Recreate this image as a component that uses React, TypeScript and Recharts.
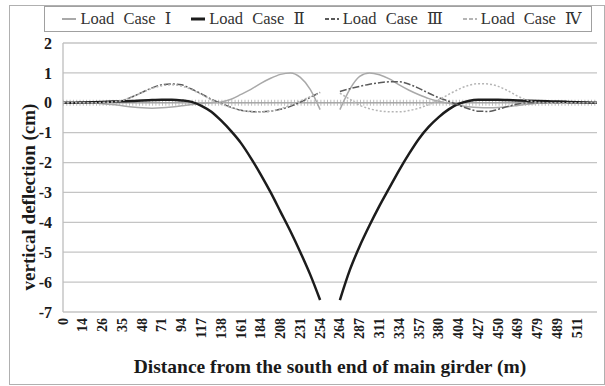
import React from 'react';
import { LineChart, Line, XAxis, YAxis, CartesianGrid, ReferenceLine, Legend } from 'recharts';

// distance along the girder (m); every other one is labelled on the axis
const DISTANCE = [
  0, 7, 14, 20, 26, 31, 35, 42, 48, 60,
  71, 83, 94, 106, 117, 128, 138, 150, 161, 173,
  184, 196, 208, 220, 231, 243, 254, 259, 264, 276,
  287, 299, 311, 323, 334, 346, 357, 369, 380, 392,
  404, 416, 427, 439, 450, 460, 469, 474, 479, 484,
  489, 500, 511, 516, 522,
];

// vertical deflection (cm), null = break at midspan
const LOAD_CASE_1 = [
  0, 0, 0, -0.01, -0.03, -0.06, -0.1, -0.14, -0.17, -0.18,
  -0.17, -0.14, -0.1, -0.06, -0.02, 0.0, 0.03, 0.12, 0.28, 0.45,
  0.65, 0.82, 0.95, 1.0, 0.85, 0.45, -0.23, null, -0.23, 0.45,
  0.88, 1.0, 0.94, 0.8, 0.6, 0.42, 0.27, 0.14, 0.05, -0.02,
  -0.08, -0.13, -0.16, -0.17, -0.16, -0.13, -0.09, -0.05, -0.02, 0,
  0, 0, 0, 0, 0,
];

const LOAD_CASE_2 = [
  0, 0, 0.01, 0.02, 0.03, 0.04, 0.05, 0.06, 0.08, 0.09,
  0.1, 0.1, 0.08, 0.03, -0.1, -0.3, -0.6, -0.95, -1.35, -1.85,
  -2.4, -3.0, -3.65, -4.3, -5.0, -5.75, -6.6, null, -6.6, -5.6,
  -4.8, -4.1, -3.45, -2.85, -2.25, -1.7, -1.2, -0.8, -0.48, -0.22,
  -0.04, 0.06, 0.1, 0.1, 0.1, 0.09, 0.08, 0.07, 0.06, 0.05,
  0.04, 0.03, 0.02, 0.01, 0,
];

const LOAD_CASE_3 = [
  0, 0, 0, 0, 0.01, 0.03, 0.08, 0.2, 0.35, 0.5,
  0.6, 0.63, 0.6, 0.46, 0.3, 0.12, -0.02, -0.15, -0.25, -0.29,
  -0.3, -0.28, -0.22, -0.12, 0.02, 0.18, 0.35, null, 0.38, 0.47,
  0.55, 0.62, 0.67, 0.7, 0.7, 0.62, 0.48, 0.32, 0.17, 0.05,
  -0.08, -0.2, -0.28, -0.29, -0.22, -0.12, -0.04, 0, 0, 0,
  0, 0, 0, 0, 0,
];

const LOAD_CASE_4 = [
  0, 0, 0, 0, 0.01, 0.03, 0.08, 0.2, 0.34, 0.48,
  0.57, 0.6, 0.56, 0.44, 0.28, 0.1, -0.04, -0.16, -0.25, -0.3,
  -0.31, -0.28, -0.2, -0.08, 0.06, 0.2, 0.32, null, 0.32, 0.12,
  -0.08, -0.2, -0.27, -0.3, -0.3, -0.26, -0.18, -0.06, 0.1, 0.28,
  0.45, 0.58, 0.64, 0.63, 0.55, 0.4, 0.22, 0.08, 0.02, 0,
  0, 0, 0, 0, 0,
];

const Y_TICKS = [2, 1, 0, -1, -2, -3, -4, -5, -6, -7];
const SERIES_NAMES = ['Load Case Ⅰ', 'Load Case Ⅱ', 'Load Case Ⅲ', 'Load Case Ⅳ'];

const SERIF = '"Liberation Serif", "DejaVu Serif", serif';

const SERIES = [
  { key: 'c1', color: '#a9a9a9', width: 1.5, dash: undefined },
  { key: 'c2', color: '#1c1c1c', width: 2.5, dash: undefined },
  { key: 'c3', color: '#5a5a5a', width: 1.5, dash: '7 2 2 2' },
  { key: 'c4', color: '#b5b5b5', width: 1.5, dash: '2 2' },
];

const data = DISTANCE.map((d, i) => ({
  d,
  c1: LOAD_CASE_1[i],
  c2: LOAD_CASE_2[i],
  c3: LOAD_CASE_3[i],
  c4: LOAD_CASE_4[i],
}));

const lastDistance = DISTANCE[DISTANCE.length - 1];

const DistanceTick = ({ x, y, payload }: any) => {
  if (payload.value === lastDistance) return null;
  return (
    <text
      x={x}
      y={y - 2}
      transform={`rotate(-90, ${x}, ${y - 2})`}
      textAnchor="end"
      dominantBaseline="central"
      fontFamily={SERIF}
      fontWeight="bold"
      fontSize={14}
      fill="#1a1a1a"
    >
      {payload.value}
    </text>
  );
};

const XTitle = ({ viewBox }: any) => (
  <text
    x={viewBox.x + viewBox.width / 2}
    y={373}
    textAnchor="middle"
    fontFamily={SERIF}
    fontWeight="bold"
    fontSize={19.5}
    fill="#1a1a1a"
  >
    Distance from the south end of main girder (m)
  </text>
);

const YTitle = () => (
  <text
    x={28}
    y={197}
    transform="rotate(-90, 28, 197)"
    textAnchor="middle"
    dominantBaseline="central"
    fontFamily={SERIF}
    fontWeight="bold"
    fontSize={19}
    fill="#1a1a1a"
  >
    vertical deflection (cm)
  </text>
);

const renderLegend = () => (
  <div
    style={{
      boxSizing: 'border-box',
      border: '1px solid #a0a0a0',
      height: 26,
      display: 'flex',
      alignItems: 'center',
      justifyContent: 'center',
      gap: 20,
      paddingLeft: 8,
      whiteSpace: 'nowrap',
      fontFamily: SERIF,
      fontSize: 16.5,
      color: '#333',
      background: '#fff',
    }}
  >
    {SERIES.map((s, i) => (
      <span key={s.key} style={{ display: 'flex', alignItems: 'center', gap: 4, whiteSpace: 'nowrap' }}>
        <svg width={14} height={6}>
          <line x1={0} y1={3} x2={14} y2={3} stroke={s.color} strokeWidth={s.width + 0.5} strokeDasharray={s.dash ? '4 2' : undefined} />
        </svg>
        <span style={{ wordSpacing: 5 }}>{SERIES_NAMES[i]}</span>
      </span>
    ))}
  </div>
);

export default function App() {
  return (
    <div style={{ position: 'absolute', left: 0, top: 0, width: 605, height: 386, background: '#fff' }}>
      <div style={{ position: 'absolute', left: 9, top: 5, width: 594, height: 378, border: '1px solid #b0b0b0' }} />
      <LineChart width={605} height={386} data={data} margin={{ top: 43, right: 8, bottom: 22, left: 0 }}>
        <CartesianGrid vertical={false} stroke="#c4c4c4" strokeWidth={1.3} />
        <XAxis
          dataKey="d"
          interval={1}
          height={52}
          axisLine={false}
          tickLine={false}
          tick={<DistanceTick />}
          label={{ content: <XTitle /> }}
        />
        <YAxis
          domain={[-7, 2]}
          ticks={Y_TICKS}
          interval={0}
          width={63}
          axisLine={{ stroke: '#bdbdbd', strokeWidth: 1.3 }}
          tickLine={false}
          tickMargin={5}
          tick={{ fontFamily: SERIF, fontWeight: 'bold', fontSize: 16, fill: '#1a1a1a' }}
          label={{ content: <YTitle /> }}
        />
        <YAxis
          yAxisId="right"
          orientation="right"
          width={0}
          domain={[-7, 2]}
          tick={false}
          tickLine={false}
          axisLine={{ stroke: '#bdbdbd', strokeWidth: 1.3 }}
        />
        <ReferenceLine y={0} stroke="#bdbdbd" strokeWidth={6} strokeDasharray="1 2.3" />
        <ReferenceLine y={0} stroke="#9a9a9a" strokeWidth={1} />
        {SERIES.map((s, i) => (
          <Line
            key={s.key}
            dataKey={s.key}
            name={SERIES_NAMES[i]}
            type="monotone"
            stroke={s.color}
            strokeWidth={s.width}
            strokeDasharray={s.dash}
            dot={false}
            isAnimationActive={false}
          />
        ))}
        <Legend
          layout="horizontal"
          verticalAlign="middle"
          align="center"
          content={renderLegend}
          wrapperStyle={{ top: 6, left: 44, width: 548 }}
        />
      </LineChart>
    </div>
  );
}
